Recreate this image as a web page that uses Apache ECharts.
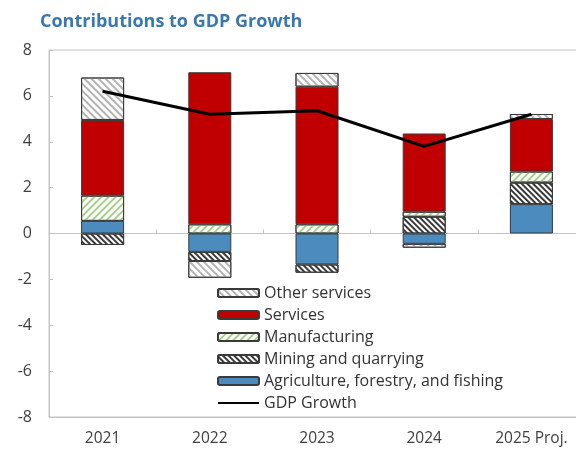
<!DOCTYPE html>
<html>
<head>
<meta charset="utf-8">
<script src="https://cdn.jsdelivr.net/npm/echarts@6/dist/echarts.min.js"></script>
<style>
  html, body { margin: 0; padding: 0; background: #fff; }
  #chart { width: 576px; height: 452px; }
</style>
</head>
<body>
<div id="chart"></div>
<script>
// Contributions to GDP growth by sector, percentage points
const years = ['2021', '2022', '2023', '2024', '2025 Proj.'];
const agriculture = [0.55, -0.8, -1.35, -0.45, 1.28];
const mining = [-0.5, -0.4, -0.36, 0.73, 0.94];
const manufacturing = [1.1, 0.4, 0.4, 0.22, 0.48];
const services = [3.3, 6.63, 6.0, 3.41, 2.29];
const otherServices = [1.85, -0.73, 0.6, -0.17, 0.22];
const gdpGrowth = [6.2, 5.2, 5.35, 3.8, 5.2];
const yTicks = { min: -8, max: 8, step: 2 };

const FONT = '"Open Sans", "Noto Sans", sans-serif';
const chart = echarts.init(document.getElementById('chart'));

const border = { borderColor: '#3a3a3a', borderWidth: 1 };

function hatch(color, gap, rot) {
  return {
    symbol: 'rect',
    symbolSize: 1,
    dashArrayX: [1, 0],
    dashArrayY: [2, gap],
    rotation: rot,
    color: color
  };
}

function barSeries(name, data, itemStyle) {
  return {
    name: name,
    type: 'bar',
    stack: 'sectors',
    data: data,
    barWidth: 43,
    xAxisIndex: 0,
    itemStyle: Object.assign({}, border, itemStyle),
    emphasis: { disabled: true }
  };
}

chart.setOption({
  animation: false,
  title: {
    text: 'Contributions to GDP Growth',
    left: 35,
    top: 8,
    textStyle: { fontFamily: FONT, fontSize: 18, fontWeight: 'bold', color: '#3a79ad' }
  },
  grid: {
    left: 49, top: 50, width: 536, bottom: 35,
    outerBoundsMode: 'none',
    containLabel: false,
    show: true, borderColor: '#c4c4c4', borderWidth: 1
  },
  legend: {
    orient: 'vertical',
    left: 217,
    top: 283,
    itemWidth: 41,
    itemHeight: 8,
    itemGap: 2,
    backgroundColor: '#fff',
    padding: [0, 4, 0, 0],
    textStyle: { fontFamily: FONT, fontSize: 16, color: '#333', lineHeight: 20 },
    data: [
      'Other services', 'Services', 'Manufacturing', 'Mining and quarrying',
      'Agriculture, forestry, and fishing',
      { name: 'GDP Growth', itemStyle: { opacity: 0 } }
    ]
  },
  xAxis: [
    {
      type: 'category',
      data: years,
      position: 'bottom',
      axisLine: { onZero: false, lineStyle: { color: '#c4c4c4' } },
      axisTick: { show: false },
      axisLabel: { fontFamily: FONT, fontSize: 15.5, color: '#404040', margin: 14 }
    },
    {
      type: 'category',
      data: years,
      position: 'bottom',
      axisLine: { onZero: true, lineStyle: { color: '#c4c4c4' } },
      axisTick: { show: true, inside: true, length: 4, lineStyle: { color: '#c4c4c4' } },
      axisLabel: { show: false }
    }
  ],
  yAxis: {
    type: 'value',
    min: yTicks.min,
    max: yTicks.max,
    interval: yTicks.step,
    axisLine: { show: true, lineStyle: { color: '#c4c4c4' } },
    axisTick: { show: true, inside: true, length: 4, lineStyle: { color: '#c4c4c4' } },
    splitLine: { show: false },
    axisLabel: { fontFamily: FONT, fontSize: 16, color: '#404040', margin: 17 }
  },
  series: [
    barSeries('Agriculture, forestry, and fishing', agriculture, { color: '#4b8bbd' }),
    barSeries('Mining and quarrying', mining, { color: '#ffffff', decal: hatch('#3a3a3a', 2, Math.PI / 4) }),
    barSeries('Manufacturing', manufacturing, { color: '#ffffff', decal: hatch('#a9d18e', 3, -Math.PI / 4) }),
    barSeries('Services', services, { color: '#c00000' }),
    barSeries('Other services', otherServices, { color: '#ffffff', decal: hatch('#b4b4b4', 3, Math.PI / 4) }),
    {
      name: 'GDP Growth',
      type: 'line',
      data: gdpGrowth,
      showSymbol: false,
      symbol: 'none',
      lineStyle: { color: '#000', width: 3 },
      itemStyle: { color: '#000' },
      z: 5
    }
  ]
});
</script>
</body>
</html>
